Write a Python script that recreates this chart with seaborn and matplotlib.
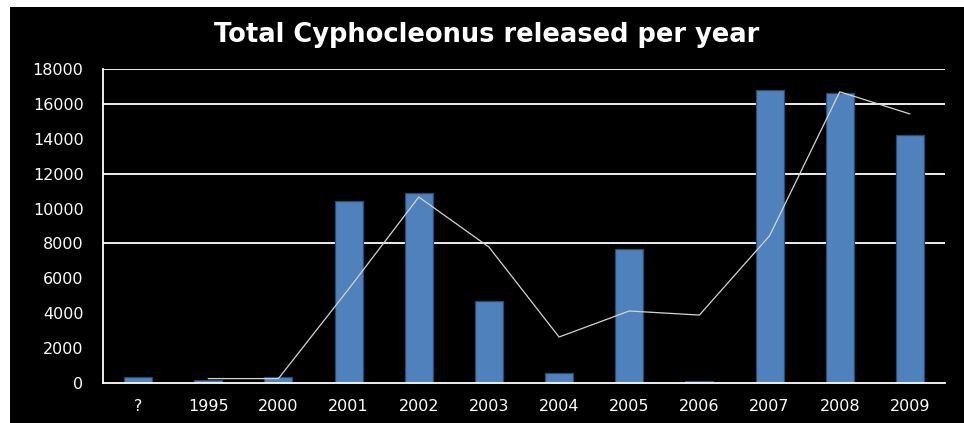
import numpy as np
import pandas as pd
import matplotlib
matplotlib.use("Agg")
import matplotlib.pyplot as plt
from matplotlib.patches import Rectangle
import seaborn as sns

# ---- data ----
categories = ["?", "1995", "2000", "2001", "2002", "2003", "2004", "2005",
              "2006", "2007", "2008", "2009"]
released = [300, 150, 300, 10430, 10890, 4680, 550, 7670, 80, 16790, 16620, 14250]
# 2-period moving-average trendline as drawn in the chart
trend = [np.nan, 225, 225, 5365, 10660, 7785, 2615, 4110, 3875, 8435, 16705, 15435]
ytick_values = [0, 2000, 4000, 6000, 8000, 10000, 12000, 14000, 16000, 18000]
grid_values = [8000, 12000, 16000, 18000]
title = "Total Cyphocleonus released per year"

df = pd.DataFrame({"year": categories, "released": released})
trend_df = pd.DataFrame({"pos": np.arange(len(categories)), "trend": trend})

sns.set_theme(style="dark")
plt.rcParams["font.family"] = ["DejaVu Sans"]

fig = plt.figure(figsize=(9.64, 4.23), dpi=100, facecolor="white")
# black chart area with thin white margin left/top
fig.patches.append(Rectangle((10 / 964, 0), 1 - 10 / 964, 1 - 7 / 423,
                             transform=fig.transFigure, facecolor="black",
                             edgecolor="none", zorder=-10))

ax = fig.add_axes([103 / 964, 1 - 382.5 / 423, (945 - 103) / 964, (382.5 - 69.3) / 423])
ax.set_zorder(1)
ax.set_facecolor("black")

# gridlines (only those visible in the reference)
for g in grid_values:
    ax.axhline(g, color="white", lw=1.3, zorder=0.5)

sns.barplot(data=df, x="year", y="released", color="#4F81BD", width=0.4,
            edgecolor="#2b4a70", linewidth=0.9, saturation=1, ax=ax, zorder=2)
sns.lineplot(data=trend_df, x="pos", y="trend", color="#d4d4d4", lw=0.9,
             ax=ax, zorder=3)

ax.set_xlim(-0.5, len(categories) - 0.5)
ax.set_ylim(0, 18000)
ax.set_xlabel("")
ax.set_ylabel("")
ax.grid(False)

for side in ["top", "right"]:
    ax.spines[side].set_visible(False)
for side in ["left", "bottom"]:
    ax.spines[side].set_color("white")
    ax.spines[side].set_linewidth(1.3)

# x: labels centred, tick marks at category boundaries
ax.set_xticks(range(len(categories)))
ax.set_xticklabels(categories)
ax.set_xticks(np.arange(-0.5, len(categories), 1.0), minor=True)
ax.tick_params(axis="x", which="major", length=0, pad=12, labelsize=11.5, colors="white")
ax.tick_params(axis="x", which="minor", length=5, width=1, color="white", direction="out")

# y: labels at every 2000, tick marks only where gridlines are visible
ax.set_yticks(ytick_values)
ax.set_yticklabels([str(v) for v in ytick_values])
ax.set_yticks([0] + grid_values, minor=True)
ax.tick_params(axis="y", which="major", length=0, pad=14, labelsize=11.5, colors="white")
ax.tick_params(axis="y", which="minor", length=7, width=1.3, color="white", direction="out")

fig.text(487 / 964, 1 - 35 / 423, title, ha="center", va="center",
         color="white", fontsize=18.5, fontweight="bold", family="DejaVu Sans")

fig.savefig("out.png", dpi=100, facecolor=fig.get_facecolor())
